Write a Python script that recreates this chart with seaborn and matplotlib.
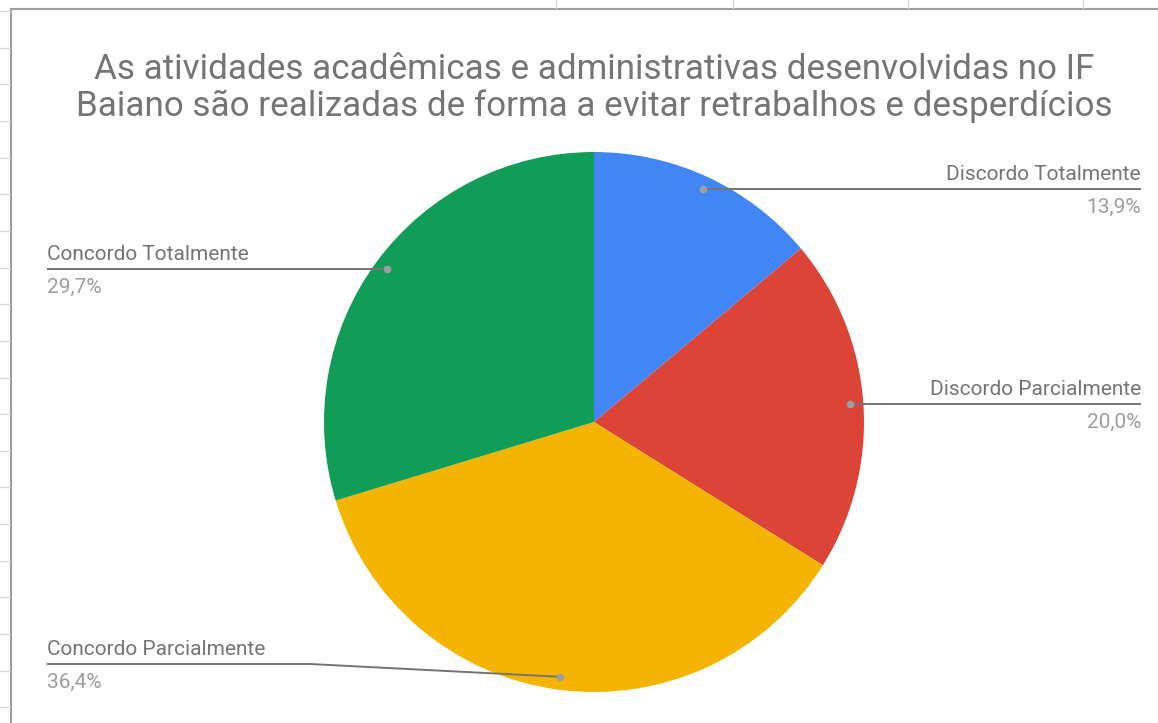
import numpy as np
import matplotlib
matplotlib.use('Agg')
import matplotlib.pyplot as plt
import seaborn as sns

# Dados do gráfico
categorias = ['Discordo Totalmente', 'Discordo Parcialmente',
              'Concordo Parcialmente', 'Concordo Totalmente']
percentuais = [13.9, 20.0, 36.4, 29.7]
cores = ['#4285F4', '#DB4437', '#F4B400', '#0F9D58']
titulo = ('As atividades acadêmicas e administrativas desenvolvidas no IF\n'
          'Baiano são realizadas de forma a evitar retrabalhos e desperdícios')

sns.set_theme(style='white')
plt.rcParams['font.family'] = ['Roboto', 'DejaVu Sans']

W, H = 1158, 723
fig = plt.figure(figsize=(W / 100, H / 100), dpi=100)
ax = fig.add_axes([0, 0, 1, 1])

# Fundo da planilha (grade atrás do gráfico)
for y in np.arange(11, H, 36.65):
    ax.plot([0, 10], [H - y, H - y], color='#d9d9d9', lw=1)
for x in [556, 733, 908, 1083]:
    ax.plot([x, x], [H, H - 8], color='#d9d9d9', lw=1)
ax.add_patch(plt.Rectangle((10.5, -5), W, H - 8.5 + 5, facecolor='white',
                           edgecolor='#9e9e9e', lw=1.5, zorder=1))

# Pizza
cx, cy, r = 594, H - 422, 270
ax.pie(percentuais, colors=cores, startangle=90, counterclock=False,
       center=(cx, cy), radius=r, wedgeprops=dict(linewidth=0, zorder=2))

ax.set_xlim(0, W)
ax.set_ylim(0, H)
ax.set_aspect('equal')
ax.axis('off')

fig.text(594 / W, 1 - 88 / H, titulo, ha='center', va='center',
         fontsize=25.2, color='#757575', linespacing=1.12)

# Rótulos com linhas-guia
cum = np.cumsum([0] + percentuais)
lado = ['r', 'r', 'l', 'l']
linha_y = [None, None, 664, None]
for i, (cat, p) in enumerate(zip(categorias, percentuais)):
    ang = np.deg2rad(90 - (cum[i] + p / 2) * 3.6)
    dx = cx + 0.952 * r * np.cos(ang)
    dy = cy + 0.952 * r * np.sin(ang)
    ly = H - linha_y[i] if linha_y[i] is not None else dy
    if lado[i] == 'r':
        xs, ys = [dx, 1141], [dy, dy]
        tx, ha = 1141, 'right'
    else:
        if linha_y[i] is not None:
            xs, ys = [dx, 310, 47], [dy, ly, ly]
        else:
            xs, ys = [dx, 47], [dy, dy]
        tx, ha = 47, 'left'
    ax.plot(xs, ys, color='#757575', lw=1.4, zorder=3, solid_capstyle='butt')
    ax.scatter([dx], [dy], s=30, color='#9e9e9e', zorder=4, linewidths=0)
    ax.text(tx, ly + 5, cat, ha=ha, va='bottom', fontsize=15, color='#757575')
    ax.text(tx, ly - 9, f'{p:.1f}%'.replace('.', ','), ha=ha, va='top',
            fontsize=15, color='#9e9e9e')

fig.savefig('out.png', dpi=100)
